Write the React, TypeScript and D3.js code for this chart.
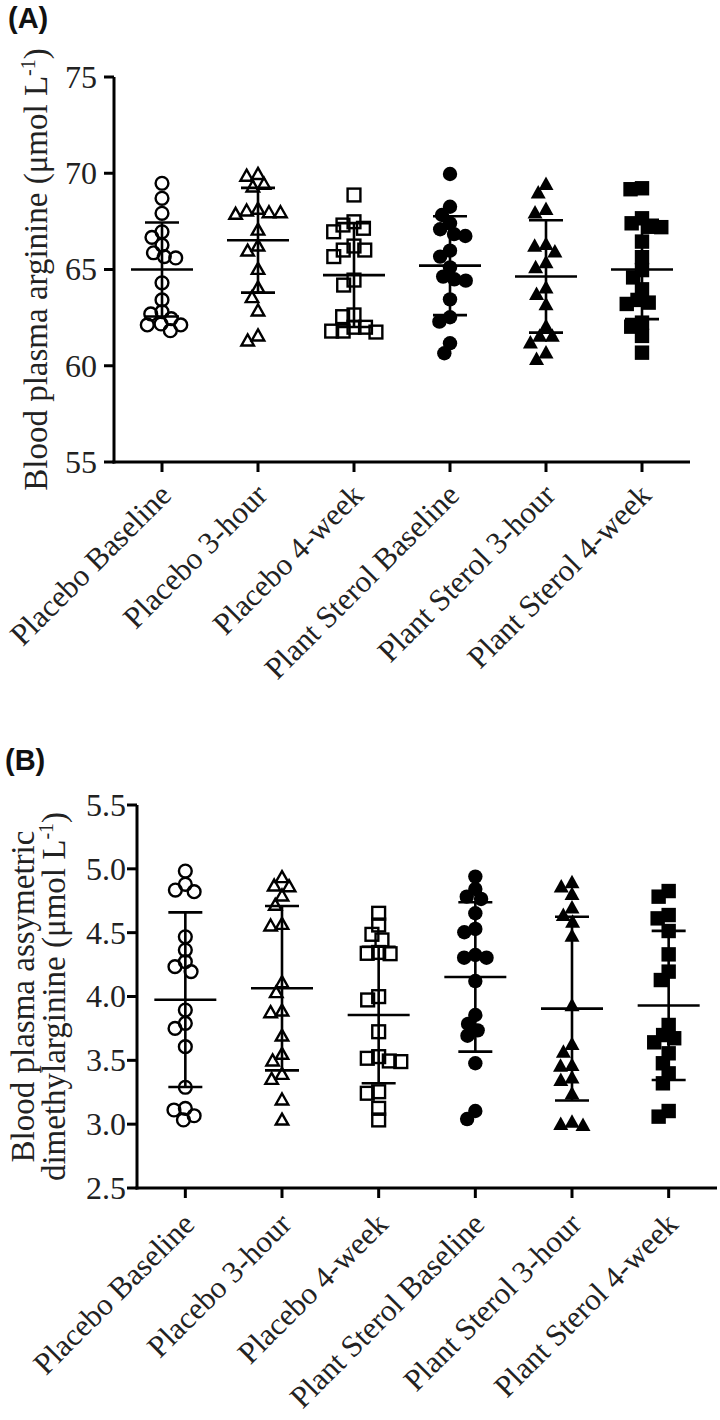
import React from 'react';
import * as d3 from 'd3';

// ---------- data ----------
const categories = [
  'Placebo Baseline',
  'Placebo 3-hour',
  'Placebo 4-week',
  'Plant Sterol Baseline',
  'Plant Sterol 3-hour',
  'Plant Sterol 4-week',
];

// Panel A: blood plasma arginine (µmol/L)
const argPlaceboBaseline = [69.48, 68.7, 67.92, 66.96, 66.67, 66.27, 65.67, 65.87, 65.6, 64.31, 63.42, 62.81, 62.69, 62.12, 61.82, 62.12, 62.17, 62.45];
const argPlacebo3h = [69.99, 69.9, 69.48, 69.34, 68.0, 68.0, 68.09, 67.92, 68.18, 67.1, 66.27, 66.01, 65.06, 64.1, 63.59, 62.9, 61.34, 61.6];
const argPlacebo4w = [68.87, 67.48, 67.14, 66.96, 67.31, 66.01, 65.67, 66.01, 66.22, 64.45, 64.19, 62.64, 62.55, 62.0, 61.8, 61.75, 61.8, 62.0];
const argSterolBaseline = [69.96, 68.26, 67.83, 67.4, 66.84, 67.09, 66.74, 65.98, 65.67, 65.11, 64.63, 64.42, 64.49, 63.45, 62.52, 62.29, 61.17, 60.65];
const argSterol3h = [69.48, 69.04, 68.18, 68.0, 66.36, 66.27, 65.98, 65.41, 65.15, 64.1, 63.76, 63.24, 62.1, 61.6, 61.6, 61.25, 60.73, 60.39];
const argSterol4w = [69.22, 69.17, 67.66, 67.22, 67.4, 67.2, 66.45, 65.64, 64.97, 64.59, 63.97, 63.42, 63.21, 63.28, 62.24, 62.03, 61.55, 60.68];
const argMeans = [65.0, 66.52, 64.71, 65.2, 64.64, 65.0];
const argSD = [2.44, 2.72, 2.7, 2.57, 2.92, 2.58];
const argTicks = [55, 60, 65, 70, 75];

// Panel B: blood plasma asymmetric dimethylarginine (µmol/L)
const admaPlaceboBaseline = [4.983, 4.879, 4.821, 4.834, 4.468, 4.364, 4.273, 4.195, 4.234, 3.894, 3.79, 3.75, 3.607, 3.289, 3.124, 3.033, 3.066, 3.111];
const admaPlacebo3h = [4.939, 4.873, 4.868, 4.795, 4.722, 4.56, 4.573, 4.116, 4.038, 3.894, 3.881, 3.698, 3.555, 3.503, 3.398, 3.359, 3.197, 3.04];
const admaPlacebo4w = [4.652, 4.56, 4.443, 4.487, 4.338, 4.345, 4.335, 3.973, 3.999, 3.724, 3.516, 3.49, 3.495, 3.529, 3.254, 3.242, 3.124, 3.033];
const admaSterolBaseline = [4.939, 4.842, 4.764, 4.782, 4.652, 4.529, 4.503, 4.325, 4.304, 4.304, 4.121, 3.855, 3.785, 3.693, 3.735, 3.477, 3.04, 3.103];
const admaSterol3h = [4.9, 4.868, 4.808, 4.703, 4.644, 4.591, 4.482, 3.937, 3.633, 3.573, 3.463, 3.469, 3.351, 3.372, 3.246, 3.025, 2.999, 3.007];
const admaSterol4w = [4.826, 4.782, 4.638, 4.612, 4.513, 4.33, 4.129, 4.195, 3.777, 3.673, 3.698, 3.641, 3.555, 3.477, 3.398, 3.32, 3.059, 3.103];
const admaMeans = [3.975, 4.065, 3.855, 4.153, 3.905, 3.93];
const admaSD = [0.684, 0.644, 0.535, 0.585, 0.72, 0.584];
const admaTicks = [2.5, 3.0, 3.5, 4.0, 4.5, 5.0, 5.5];

const markerKinds = ['circleOpen', 'triangleOpen', 'squareOpen', 'circle', 'triangle', 'square'];

// ---------- helpers ----------
const SERIF = '"Liberation Serif", "Times New Roman", serif';
const SANS = '"Liberation Sans", Arial, sans-serif';
const TXT = '#222';

function swarm(vals: number[], y: (v: number) => number, d: number): number[] {
  const idx = vals.map((_, i) => i).sort((a, b) => y(vals[a]) - y(vals[b]));
  const placed: { x: number; y: number }[] = [];
  const out = new Array(vals.length).fill(0);
  for (const i of idx) {
    const py = y(vals[i]);
    const cands = [0];
    for (const p of placed) {
      const dy = Math.abs(p.y - py);
      if (dy < d) {
        const dx = Math.sqrt(d * d - dy * dy);
        cands.push(p.x + dx, p.x - dx);
      }
    }
    cands.sort((a, b) => Math.abs(a) - Math.abs(b) || a - b);
    let chosen = 0;
    for (const c of cands) {
      if (placed.every((p) => (p.x - c) ** 2 + (p.y - py) ** 2 >= d * d - 0.01)) {
        chosen = c;
        break;
      }
    }
    placed.push({ x: chosen, y: py });
    out[i] = chosen;
  }
  return out;
}

function Marker({ kind, x, y }: { kind: string; x: number; y: number }) {
  const sw = 2.4;
  switch (kind) {
    case 'circleOpen':
      return <circle cx={x} cy={y} r={6.4} fill="none" stroke="#000" strokeWidth={sw} />;
    case 'circle':
      return <circle cx={x} cy={y} r={7.2} fill="#000" />;
    case 'squareOpen':
      return <rect x={x - 6.4} y={y - 6.4} width={12.8} height={12.8} fill="none" stroke="#000" strokeWidth={sw} />;
    case 'square':
      return <rect x={x - 7.2} y={y - 7.2} width={14.4} height={14.4} fill="#000" />;
    case 'triangleOpen': {
      const w = 12.5, h = 11;
      return (
        <path d={`M${x},${y - h / 2}L${x + w / 2},${y + h / 2}L${x - w / 2},${y + h / 2}Z`} fill="none" stroke="#000" strokeWidth={sw} strokeLinejoin="miter" />
      );
    }
    default: {
      const w = 15, h = 13.5;
      return <path d={`M${x},${y - h / 2}L${x + w / 2},${y + h / 2}L${x - w / 2},${y + h / 2}Z`} fill="#000" />;
    }
  }
}

type PanelProps = {
  tag: string;
  tagX: number;
  tagY: number;
  groups: number[][];
  means: number[];
  sds: number[];
  ticks: number[];
  fmt: (v: number) => string;
  x0: number;
  x1: number;
  yTop: number;
  yBot: number;
  tickLabelX: number;
  titleLines: { text: string; x: number; sup?: boolean }[];
  catDx: number;
  catDy: number;
};

function Panel(p: PanelProps) {
  const y = d3.scaleLinear().domain([p.ticks[0], p.ticks[p.ticks.length - 1]]).range([p.yBot, p.yTop]);
  const x = d3.scaleBand<string>().domain(categories).range([p.x0, p.x1]);
  const cx = (c: string) => (x(c) as number) + x.bandwidth() / 2;
  const midY = (p.yTop + p.yBot) / 2;
  const meanHalf = 31;
  const capHalf = 17;
  return (
    <g>
      <text x={p.tagX} y={p.tagY} fontFamily={SANS} fontWeight="bold" fontSize={29} fill="#111">
        {p.tag}
      </text>
      {/* y title */}
      {p.titleLines.map((l, i) => (
        <text key={i} transform={`translate(${l.x},${midY}) rotate(-90)`} textAnchor="middle" fontFamily={SERIF} fontSize={33} fill={TXT}>
          {l.sup ? (
            <>
              {l.text}
              <tspan dy={-12} fontSize={20}>-1</tspan>
              <tspan dy={12}>)</tspan>
            </>
          ) : (
            l.text
          )}
        </text>
      ))}
      {/* y axis */}
      <line x1={p.x0} x2={p.x0} y1={p.yTop} y2={p.yBot + 1.5} stroke="#000" strokeWidth={3} />
      {p.ticks.map((t) => (
        <g key={t}>
          <line x1={p.x0 - 10} x2={p.x0} y1={y(t)} y2={y(t)} stroke="#000" strokeWidth={3} />
          <text x={p.tickLabelX} y={y(t)} dy="0.34em" textAnchor="end" fontFamily={SERIF} fontSize={32} fill={TXT}>
            {p.fmt(t)}
          </text>
        </g>
      ))}
      {/* x axis */}
      <line x1={p.x0 - 1.5} x2={p.x1} y1={p.yBot} y2={p.yBot} stroke="#000" strokeWidth={3} />
      {categories.map((c) => (
        <g key={c}>
          <line x1={cx(c)} x2={cx(c)} y1={p.yBot} y2={p.yBot + 10} stroke="#000" strokeWidth={3} />
          <text
            transform={`translate(${cx(c) + p.catDx},${p.yBot + p.catDy}) rotate(-45)`}
            textAnchor="end"
            fontFamily={SERIF}
            fontSize={31}
            fill={TXT}
          >
            {c}
          </text>
        </g>
      ))}
      {/* points */}
      {p.groups.map((vals, gi) => {
        const offs = swarm(vals, y, 11.5);
        const c = categories[gi];
        return (
          <g key={gi}>
            {vals.map((v, i) => (
              <Marker key={i} kind={markerKinds[gi]} x={cx(c) + offs[i]} y={y(v)} />
            ))}
          </g>
        );
      })}
      {/* mean ± SD */}
      {categories.map((c, gi) => {
        const m = p.means[gi];
        const s = p.sds[gi];
        const xc = cx(c);
        return (
          <g key={c} stroke="#000" strokeWidth={2.6}>
            <line x1={xc} x2={xc} y1={y(m + s)} y2={y(m - s)} />
            <line x1={xc - meanHalf} x2={xc + meanHalf} y1={y(m)} y2={y(m)} />
            <line x1={xc - capHalf} x2={xc + capHalf} y1={y(m + s)} y2={y(m + s)} />
            <line x1={xc - capHalf} x2={xc + capHalf} y1={y(m - s)} y2={y(m - s)} />
          </g>
        );
      })}
    </g>
  );
}

export default function App() {
  return (
    <svg
      width={720}
      height={1420}
      viewBox="0 0 720 1420"
      style={{ position: 'absolute', left: 0, top: 0, background: '#fff' }}
    >
      <rect width={720} height={1420} fill="#fff" />
      <Panel
        tag="(A)"
        tagX={8}
        tagY={28}
        groups={[argPlaceboBaseline, argPlacebo3h, argPlacebo4w, argSterolBaseline, argSterol3h, argSterol4w]}
        means={argMeans}
        sds={argSD}
        ticks={argTicks}
        fmt={(v) => d3.format('d')(v)}
        x0={114}
        x1={690}
        yTop={77}
        yBot={462}
        tickLabelX={97}
        titleLines={[{ text: 'Blood plasma arginine (μmol L', x: 47, sup: true }]}
        catDx={11}
        catDy={35}
      />
      <Panel
        tag="(B)"
        tagX={5}
        tagY={770}
        groups={[admaPlaceboBaseline, admaPlacebo3h, admaPlacebo4w, admaSterolBaseline, admaSterol3h, admaSterol4w]}
        means={admaMeans}
        sds={admaSD}
        ticks={admaTicks}
        fmt={(v) => d3.format('.1f')(v)}
        x0={137}
        x1={717}
        yTop={805}
        yBot={1188}
        tickLabelX={126}
        titleLines={[
          { text: 'Blood plasma assymetric', x: 34 },
          { text: 'dimethylarginine (μmol L', x: 65, sup: true },
        ]}
        catDx={11}
        catDy={38}
      />
    </svg>
  );
}
